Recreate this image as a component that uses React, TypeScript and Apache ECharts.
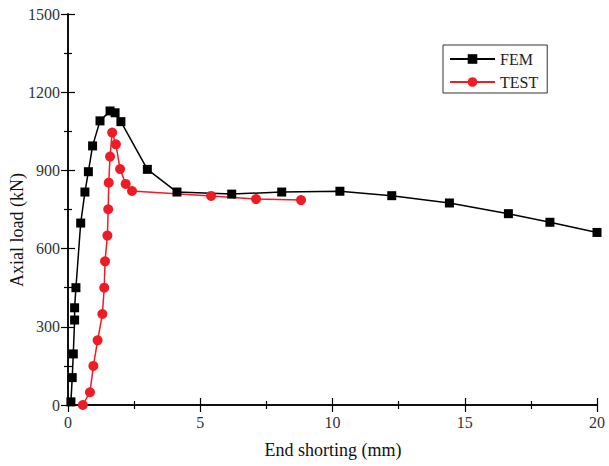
import React, { useEffect, useRef } from "react";
import * as echarts from "echarts";

const FEM_X = [0.11, 0.16, 0.2, 0.25, 0.25, 0.3, 0.48, 0.64, 0.77, 0.93, 1.21, 1.59, 1.78, 2.0, 3.0, 4.12, 6.19, 8.08, 10.28, 12.24, 14.42, 16.65, 18.22, 20];
const FEM_Y = [12, 105, 196, 326, 373, 450, 698, 817, 895, 994, 1090, 1128, 1121, 1087, 904, 817, 809, 817, 820, 803, 775, 734, 701, 662];
const TEST_X = [0.56, 0.83, 0.96, 1.12, 1.3, 1.37, 1.4, 1.49, 1.52, 1.54, 1.59, 1.67, 1.81, 1.97, 2.18, 2.42, 5.41, 7.11, 8.81];
const TEST_Y = [0, 49, 150, 248, 349, 450, 551, 650, 751, 853, 953, 1045, 1000, 905, 848, 821, 802, 790, 786];
const SERIES_NAMES = ["FEM", "TEST"];
const X_TITLE = "End shorting (mm)";
const Y_TITLE = "Axial load (kN)";

const FONT = "'Liberation Serif', 'Times New Roman', serif";

export default function App() {
  const ref = useRef<HTMLDivElement>(null);
  useEffect(() => {
    if (!ref.current) return;
    const chart = echarts.init(ref.current, undefined, { renderer: "svg" });
    const axisCommon = {
      axisLine: { show: true, lineStyle: { color: "#000", width: 1.5 } },
      axisTick: { show: true, inside: true, length: 7, lineStyle: { color: "#000", width: 1.2 } },
      minorTick: { show: true, splitNumber: 2, length: 4, lineStyle: { color: "#000", width: 1.2 } },
      splitLine: { show: false },
    };
    const labelStyle = {
      fontFamily: FONT,
      fontSize: 16,
      color: "#333",
      formatter: (v: number) => String(v),
    };
    chart.setOption({
      animation: false,
      backgroundColor: "#fff",
      textStyle: { fontFamily: FONT },
      grid: { left: 68, right: 12, top: 14, bottom: 61, containLabel: false },
      xAxis: [
        {
          type: "value", min: 0, max: 20, interval: 5, position: "bottom",
          ...axisCommon,
          axisLabel: { ...labelStyle, margin: 9 },
        },
        {
          type: "value", min: 0, max: 20, interval: 5, position: "top",
          ...axisCommon,
          axisLabel: { show: false },
        },
      ],
      yAxis: [
        {
          type: "value", min: 0, max: 1500, interval: 300, position: "left",
          ...axisCommon,
          axisLabel: { ...labelStyle, margin: 8 },
        },
        {
          type: "value", min: 0, max: 1500, interval: 300, position: "right",
          ...axisCommon,
          axisLabel: { show: false },
        },
      ],
      legend: {
        orient: "vertical",
        left: 443,
        top: 45,
        padding: [6, 9, 3, 6],
        itemGap: 7,
        itemWidth: 45,
        itemHeight: 12,
        borderColor: "#333",
        borderWidth: 1,
        borderRadius: 0,
        textStyle: { fontFamily: FONT, fontSize: 16, color: "#222" },
        data: SERIES_NAMES,
      },
      series: [
        {
          name: SERIES_NAMES[0],
          type: "line",
          data: FEM_X.map((x, i) => [x, FEM_Y[i]]),
          symbol: "rect",
          symbolSize: 9,
          clip: false,
          itemStyle: { color: "#000" },
          lineStyle: { color: "#000", width: 1.5 },
        },
        {
          name: SERIES_NAMES[1],
          type: "line",
          data: TEST_X.map((x, i) => [x, TEST_Y[i]]),
          symbol: "circle",
          symbolSize: 10,
          clip: false,
          itemStyle: { color: "#ee1c25" },
          lineStyle: { color: "#ee1c25", width: 1.5 },
        },
      ],
      graphic: [
        {
          type: "text",
          x: 333,
          y: 450,
          style: {
            text: X_TITLE,
            font: `18px ${FONT}`,
            fill: "#111",
            align: "center",
            verticalAlign: "middle",
            textAlign: "center",
            textVerticalAlign: "middle",
          },
        },
        {
          type: "text",
          x: 17,
          y: 230,
          rotation: Math.PI / 2,
          style: {
            text: Y_TITLE,
            font: `18px ${FONT}`,
            fill: "#111",
            align: "center",
            verticalAlign: "middle",
            textAlign: "center",
            textVerticalAlign: "middle",
          },
        },
      ],
    });
    return () => chart.dispose();
  }, []);
  return <div ref={ref} style={{ width: 609, height: 466, position: "absolute", left: 0, top: 0 }} />;
}
